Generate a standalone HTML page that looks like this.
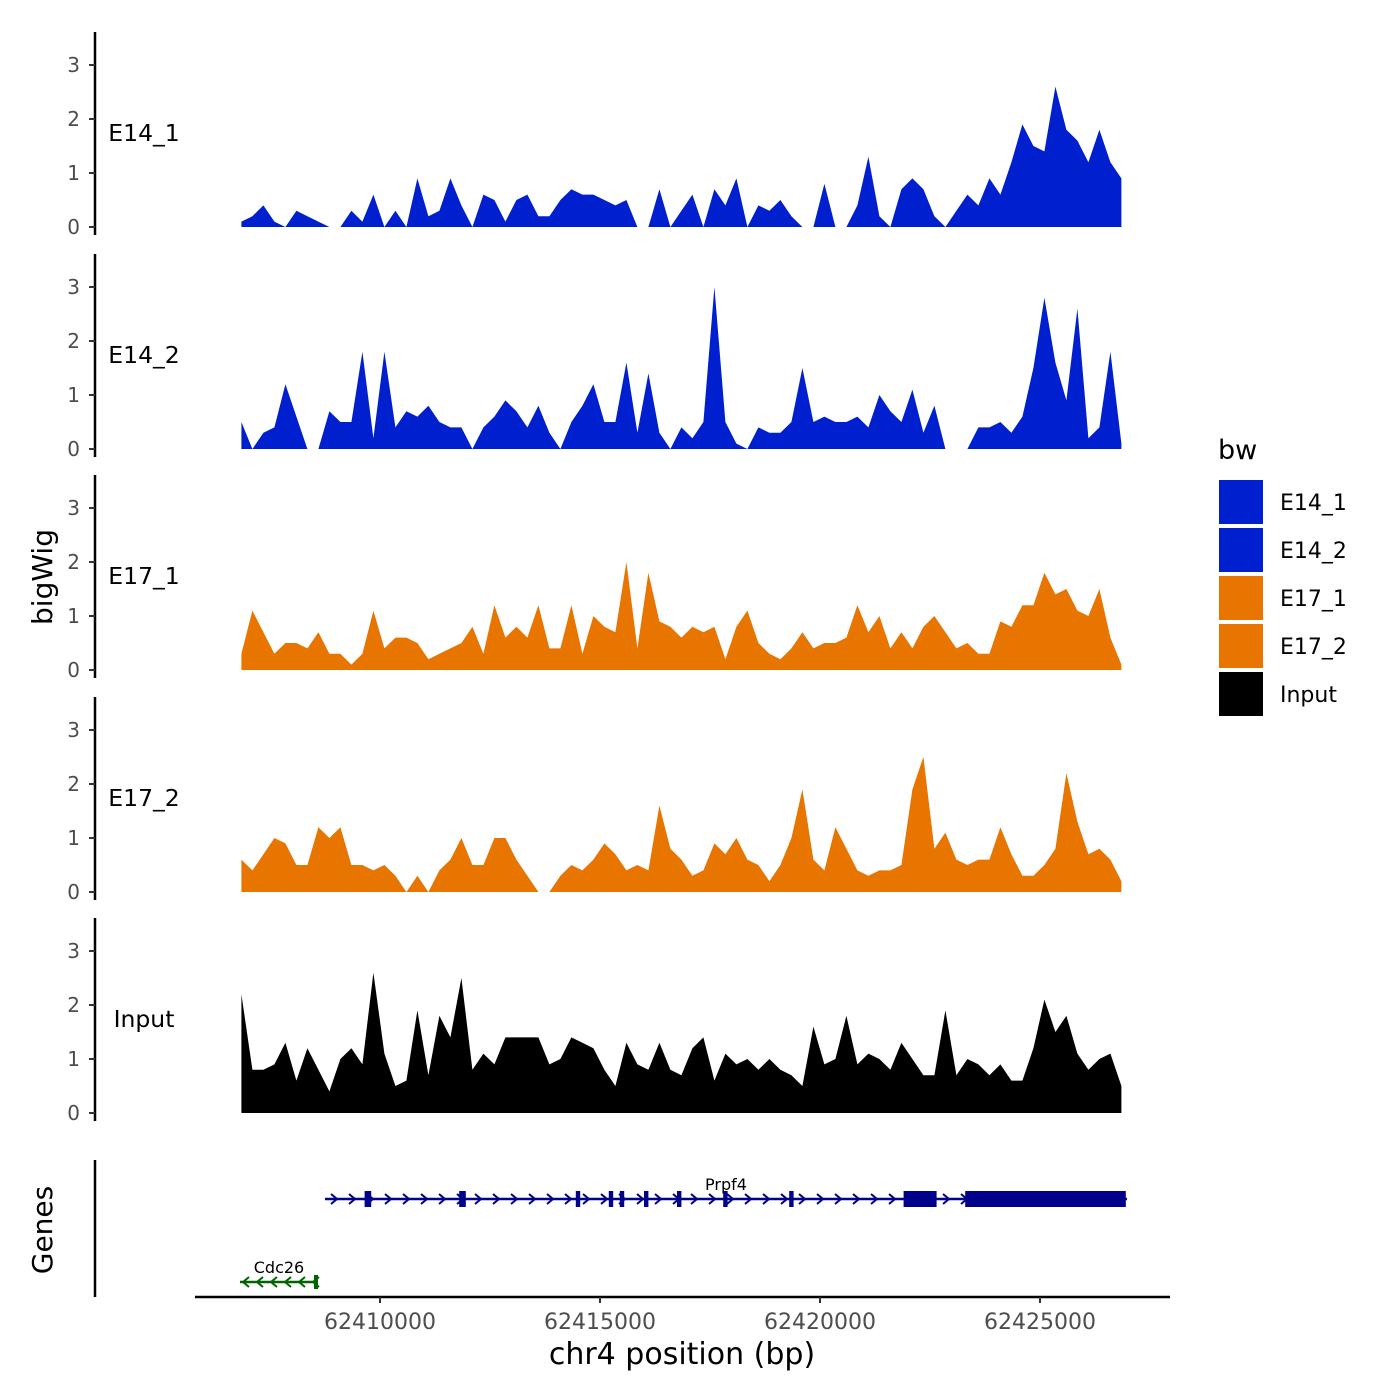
<!DOCTYPE html>
<html><head><meta charset="utf-8"><style>
body{margin:0;background:#fff}
svg{display:block;font-family:"DejaVu Sans","Liberation Sans",sans-serif}
</style></head><body>
<svg id="chart" width="1400" height="1400" viewBox="0 0 1400 1400" xmlns="http://www.w3.org/2000/svg">
<rect width="1400" height="1400" fill="#fff"/>
<g id="tracks"></g>
<g id="genes"></g>
<g id="xaxis"></g>
<text x="52" y="577" font-size="28" text-anchor="middle" transform="rotate(-90 52 577)">bigWig</text>
<text x="52" y="1230" font-size="28" text-anchor="middle" transform="rotate(-90 52 1230)">Genes</text>
<text x="682" y="1364" font-size="30" text-anchor="middle">chr4 position (bp)</text>
<g id="legend"></g>
</svg>
<script>
const trackNames = ["E14_1","E14_2","E17_1","E17_2","Input"];
const trackColors = ["#0020D0","#0020D0","#E87500","#E87500","#000000"];
const startBp = 62406850;
const stepBp = 250;
const yTicks = [0,1,2,3];
const xTicks = [62410000,62415000,62420000,62425000];
const e14_1 = [0.1,0.2,0.4,0.1,0,0.3,0.2,0.1,0,0,0.3,0.1,0.6,0,0.3,0,0.9,0.2,0.3,0.9,0.4,0,0.6,0.5,0.1,0.5,0.6,0.2,0.2,0.5,0.7,0.6,0.6,0.5,0.4,0.5,0,0,0.7,0,0.3,0.6,0,0.7,0.4,0.9,0,0.4,0.3,0.5,0.2,0,0,0.8,0,0,0.4,1.3,0.2,0,0.7,0.9,0.7,0.2,0,0.3,0.6,0.4,0.9,0.6,1.2,1.9,1.5,1.4,2.6,1.8,1.6,1.2,1.8,1.2,0.9];
const e14_2 = [0.5,0,0.3,0.4,1.2,0.6,0,0,0.7,0.5,0.5,1.8,0.2,1.8,0.4,0.7,0.6,0.8,0.5,0.4,0.4,0,0.4,0.6,0.9,0.7,0.4,0.8,0.3,0,0.5,0.8,1.2,0.5,0.5,1.6,0.3,1.4,0.3,0,0.4,0.2,0.5,3.0,0.5,0.1,0,0.4,0.3,0.3,0.5,1.5,0.5,0.6,0.5,0.5,0.6,0.4,1.0,0.7,0.5,1.1,0.3,0.8,0,0,0,0.4,0.4,0.5,0.3,0.6,1.5,2.8,1.6,0.9,2.6,0.2,0.4,1.8,0.1];
const e17_1 = [0.3,1.1,0.7,0.3,0.5,0.5,0.4,0.7,0.3,0.3,0.1,0.3,1.1,0.4,0.6,0.6,0.5,0.2,0.3,0.4,0.5,0.8,0.3,1.2,0.6,0.8,0.6,1.2,0.4,0.4,1.2,0.3,1.0,0.8,0.7,2.0,0.4,1.8,0.9,0.8,0.6,0.8,0.7,0.8,0.2,0.8,1.1,0.5,0.3,0.2,0.4,0.7,0.4,0.5,0.5,0.6,1.2,0.7,1.0,0.4,0.7,0.4,0.8,1.0,0.7,0.4,0.5,0.3,0.3,0.9,0.8,1.2,1.2,1.8,1.4,1.5,1.1,1.0,1.5,0.6,0.1];
const e17_2 = [0.6,0.4,0.7,1.0,0.9,0.5,0.5,1.2,1.0,1.2,0.5,0.5,0.4,0.5,0.3,0,0.3,0,0.4,0.6,1.0,0.5,0.5,1.0,1.0,0.6,0.3,0,0,0.3,0.5,0.4,0.6,0.9,0.7,0.4,0.5,0.4,1.6,0.8,0.6,0.3,0.4,0.9,0.7,1.0,0.6,0.5,0.2,0.5,1.0,1.9,0.6,0.4,1.2,0.8,0.4,0.3,0.4,0.4,0.5,1.9,2.5,0.8,1.1,0.6,0.5,0.6,0.6,1.2,0.7,0.3,0.3,0.5,0.8,2.2,1.3,0.7,0.8,0.6,0.2];
const input = [2.2,0.8,0.8,0.9,1.3,0.6,1.2,0.8,0.4,1.0,1.2,0.9,2.6,1.1,0.5,0.6,1.9,0.7,1.8,1.4,2.5,0.8,1.1,0.9,1.4,1.4,1.4,1.4,0.9,1.0,1.4,1.3,1.2,0.8,0.5,1.3,0.9,0.8,1.3,0.8,0.7,1.2,1.4,0.6,1.1,0.9,1.0,0.8,1.0,0.8,0.7,0.5,1.6,0.9,1.0,1.8,0.9,1.1,1.0,0.8,1.3,1.0,0.7,0.7,1.9,0.7,1.0,0.9,0.7,0.9,0.6,0.6,1.2,2.1,1.5,1.8,1.1,0.8,1.0,1.1,0.5];
const trackData = [e14_1,e14_2,e17_1,e17_2,input];
const exonStarts = [62409650,62411800,62414450,62415200,62415450,62416000,62416750,62417800,62419300,62421900,62422500,62423300];
const exonEnds   = [62409800,62411950,62414550,62415300,62415550,62416100,62416850,62417900,62419400,62422550,62422650,62426950];

const NS="http://www.w3.org/2000/svg";
function mk(tag,attrs,parent){const e=document.createElementNS(NS,tag);for(const k in attrs)e.setAttribute(k,attrs[k]);parent.appendChild(e);return e;}
const xs = bp => 380 + (bp-62410000)*0.044;
const base = [227,449,670,892,1113];
const unit = 54;
const tg = document.getElementById('tracks');
trackData.forEach((vals,t)=>{
  const b = base[t];
  const ys = v => b - v*unit;
  const ax = mk('line',{x1:95,x2:95,y1:b-195,y2:b+8,stroke:'#000','stroke-width':2.5},tg);
  
  
  yTicks.forEach(v=>{
    const tk=mk('line',{x1:89,x2:95,y1:ys(v),y2:ys(v),stroke:'#333','stroke-width':2},tg);
    
    
    const tl=mk('text',{x:80,y:ys(v)+7,'font-size':20,fill:'#4d4d4d','text-anchor':'end'},tg);
    tl.textContent=v;
    
    
  });
  let d='M'+xs(startBp).toFixed(1)+','+b;
  vals.forEach((v,i)=>{d+=' L'+xs(startBp+i*stepBp).toFixed(1)+','+ys(v).toFixed(1);});
  d+=' L'+xs(startBp+(vals.length-1)*stepBp).toFixed(1)+','+b+' Z';
  const p=mk('path',{d:d,fill:trackColors[t]},tg);
  
  
  const lab=mk('text',{x:144,y:b-86,'font-size':23.5,'text-anchor':'middle'},tg);
  lab.textContent=trackNames[t];
  
  
});
// genes
const gg=document.getElementById('genes');
const gax=mk('line',{x1:95,x2:95,y1:1160,y2:1297,stroke:'#000','stroke-width':2.5},gg);


const gl=mk('line',{x1:325,x2:1127,y1:1199,y2:1199,stroke:'#00008B','stroke-width':2.5},gg);


for(let x=335;x<1120;x+=18){
  const a=mk('path',{d:`M${x-4},${1194} L${x+2},${1199} L${x-4},${1204}`,fill:'none',stroke:'#00008B','stroke-width':2},gg);
  
  
}
exonStarts.forEach((s,i)=>{
  const w=Math.max(4,xs(exonEnds[i])-xs(s));
  const r=mk('rect',{x:xs(s),y:1191,width:w,height:16,fill:'#00008B'},gg);
  
  
});
const pl=mk('text',{x:726,y:1190,'font-size':16,'text-anchor':'middle'},gg);
pl.textContent='Prpf4';


const cl=mk('line',{x1:240,x2:318,y1:1282,y2:1282,stroke:'#006400','stroke-width':2.5},gg);


for(let x=244;x<315;x+=14){
  const a=mk('path',{d:`M${x+5},1277 L${x-1},1282 L${x+5},1287`,fill:'none',stroke:'#006400','stroke-width':2},gg);
  
  
}
const ce=mk('rect',{x:314,y:1275,width:4,height:14,fill:'#006400'},gg);


const ctl=mk('text',{x:279,y:1273,'font-size':16,'text-anchor':'middle'},gg);
ctl.textContent='Cdc26';


// x axis
const xg=document.getElementById('xaxis');
const xl=mk('line',{x1:195,x2:1170,y1:1297,y2:1297,stroke:'#000','stroke-width':2.5},xg);


xTicks.forEach(v=>{
  const tk=mk('line',{x1:xs(v),x2:xs(v),y1:1297,y2:1303,stroke:'#333','stroke-width':2},xg);
  
  
  const tl=mk('text',{x:xs(v),y:1329,'font-size':22,fill:'#4d4d4d','text-anchor':'middle'},xg);
  tl.textContent=v;
  
  
});
// legend
const lg=document.getElementById('legend');
const lt=mk('text',{x:1218,y:459,'font-size':27},lg);
lt.textContent='bw';


trackNames.forEach((n,i)=>{
  const y=480+i*48;
  const r=mk('rect',{x:1219,y:y,width:44,height:44,fill:trackColors[i]},lg);
  
  
  const t=mk('text',{x:1280,y:y+30,'font-size':22},lg);
  t.textContent=n;
  
  
});
</script>
</body></html>
